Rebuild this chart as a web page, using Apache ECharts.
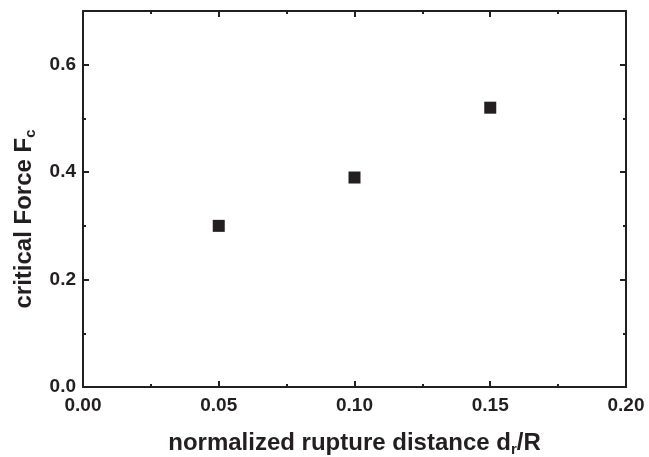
<!DOCTYPE html>
<html>
<head>
<meta charset="utf-8">
<script src="https://cdn.jsdelivr.net/npm/echarts@6/dist/echarts.min.js"></script>
<style>
  html, body { margin: 0; padding: 0; background: #fff; }
  #chart { width: 649px; height: 457px; }
</style>
</head>
<body>
<div id="chart"></div>
<script>
// data
const ruptureDistance = [0.05, 0.10, 0.15];
const criticalForce = [0.30, 0.39, 0.52];

const ink = '#231f20';
const font = 'Liberation Sans, Arial, sans-serif';

const chart = echarts.init(document.getElementById('chart'));

// the frame: labelled axis + mirrored axis + short-tick helper axes
const frameX = (pos, labelled, interval, tickLen, showLine) => ({
    type: 'value', position: pos, min: 0, max: 0.2, interval: interval,
    axisLine: { show: showLine, onZero: false, lineStyle: { color: ink, width: 2 } },
    axisTick: { show: true, inside: true, length: tickLen, lineStyle: { color: ink, width: 2 } },
    axisLabel: {
        show: labelled, color: ink, fontSize: 19, fontWeight: 'bold', fontFamily: font, margin: 9,
        formatter: v => v.toFixed(2)
    },
    splitLine: { show: false }
});
const frameY = (pos, labelled, interval, tickLen, showLine) => ({
    type: 'value', position: pos, min: 0, max: 0.7, interval: interval,
    axisLine: { show: showLine, onZero: false, lineStyle: { color: ink, width: 2 } },
    axisTick: { show: true, inside: true, length: tickLen, lineStyle: { color: ink, width: 2 } },
    axisLabel: {
        show: labelled, color: ink, fontSize: 19, fontWeight: 'bold', fontFamily: font, margin: 7,
        showMaxLabel: false, formatter: v => v.toFixed(1)
    },
    splitLine: { show: false }
});

const titleRich = {
    a: { color: ink, fontSize: 24, fontWeight: 'bold', fontFamily: font },
    s: { color: ink, fontSize: 15, fontWeight: 'bold', fontFamily: font, padding: [12, 0, 0, 0] }
};

const xMain = frameX('bottom', true, 0.05, 6, true);
xMain.name = '{a|normalized rupture distance d}{s|r}{a|/R}';
xMain.nameLocation = 'middle';
xMain.nameGap = 43;
xMain.nameTextStyle = { rich: titleRich };

const yMain = frameY('left', true, 0.2, 6, true);
yMain.name = '{a|critical Force F}{s|c}';
yMain.nameLocation = 'middle';
yMain.nameGap = 45;
yMain.nameTextStyle = { rich: titleRich, padding: [0, 40, 0, 0] };

chart.setOption({
    backgroundColor: '#fff',
    animation: false,
    grid: { left: 83, right: 23, top: 11, bottom: 70, containLabel: false, outerBoundsMode: 'none' },
    xAxis: [
        xMain,
        frameX('top', false, 0.05, 6, true),
        frameX('bottom', false, 0.025, 3, false),
        frameX('top', false, 0.025, 3, false)
    ],
    yAxis: [
        yMain,
        frameY('right', false, 0.2, 6, true),
        frameY('left', false, 0.1, 3, false),
        frameY('right', false, 0.1, 3, false)
    ],
    series: [{
        type: 'scatter',
        symbol: 'rect',
        symbolSize: 12,
        itemStyle: { color: ink, opacity: 1 },
        data: ruptureDistance.map((x, i) => [x, criticalForce[i]])
    }]
});
</script>
</body>
</html>
